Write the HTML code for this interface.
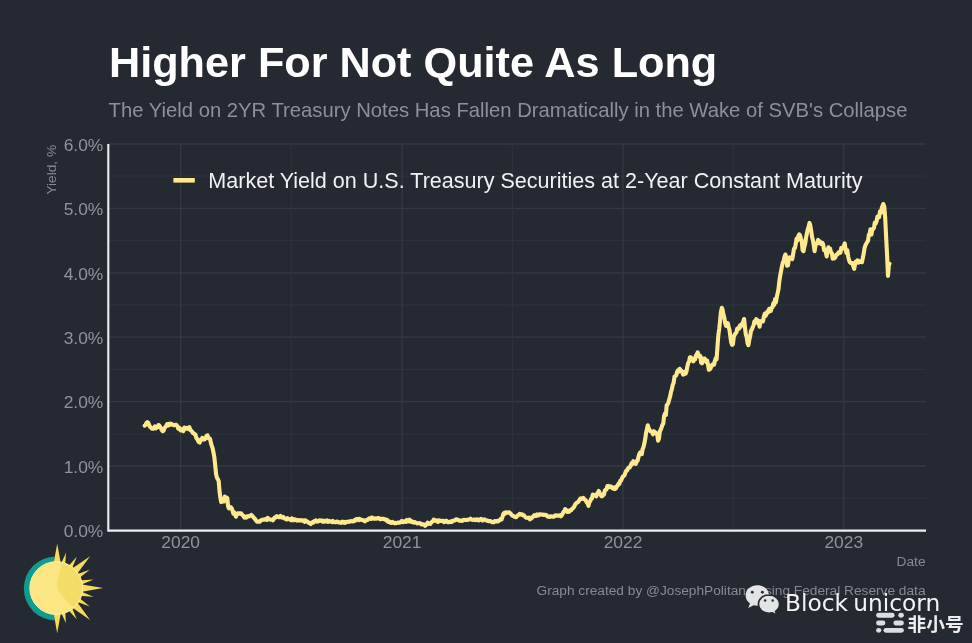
<!DOCTYPE html>
<html lang="en"><head><meta charset="utf-8"><title>Higher For Not Quite As Long</title>
<style>
html,body{margin:0;padding:0;background:#252A32;}
body{width:972px;height:643px;overflow:hidden;position:relative;font-family:"Liberation Sans",Arial,sans-serif;}
svg{position:absolute;left:0;top:0;display:block}
text{font-family:"Liberation Sans",Arial,sans-serif}
.tick{font-size:17.4px;fill:#90939B}
.small{font-size:13.7px;fill:#878A92}
</style></head><body>
<svg width="972" height="643" viewBox="0 0 972 643">
<rect width="972" height="643" fill="#252A32"/>

<g fill="none" stroke-width="1.3">
<line x1="108.3" x2="926.0" y1="530.4" y2="530.4" stroke="#343942"/>
<line x1="108.3" x2="926.0" y1="498.2" y2="498.2" stroke="#2D323A"/>
<line x1="108.3" x2="926.0" y1="466.0" y2="466.0" stroke="#343942"/>
<line x1="108.3" x2="926.0" y1="433.8" y2="433.8" stroke="#2D323A"/>
<line x1="108.3" x2="926.0" y1="401.6" y2="401.6" stroke="#343942"/>
<line x1="108.3" x2="926.0" y1="369.4" y2="369.4" stroke="#2D323A"/>
<line x1="108.3" x2="926.0" y1="337.2" y2="337.2" stroke="#343942"/>
<line x1="108.3" x2="926.0" y1="305.0" y2="305.0" stroke="#2D323A"/>
<line x1="108.3" x2="926.0" y1="272.8" y2="272.8" stroke="#343942"/>
<line x1="108.3" x2="926.0" y1="240.6" y2="240.6" stroke="#2D323A"/>
<line x1="108.3" x2="926.0" y1="208.4" y2="208.4" stroke="#343942"/>
<line x1="108.3" x2="926.0" y1="176.2" y2="176.2" stroke="#2D323A"/>
<line x1="108.3" x2="926.0" y1="144.0" y2="144.0" stroke="#343942"/>
<line x1="180.7" x2="180.7" y1="144.0" y2="530.4" stroke="#343942"/>
<line x1="402.1" x2="402.1" y1="144.0" y2="530.4" stroke="#343942"/>
<line x1="623.0" x2="623.0" y1="144.0" y2="530.4" stroke="#343942"/>
<line x1="843.8" x2="843.8" y1="144.0" y2="530.4" stroke="#343942"/>
<line x1="291.4" x2="291.4" y1="144.0" y2="530.4" stroke="#2D323A"/>
<line x1="512.5" x2="512.5" y1="144.0" y2="530.4" stroke="#2D323A"/>
<line x1="733.4" x2="733.4" y1="144.0" y2="530.4" stroke="#2D323A"/>
</g>
<path d="M144.7,425.7 L145.6,425.0 L146.4,423.0 L147.3,422.1 L148.1,422.7 L149.0,424.5 L149.9,426.8 L150.7,427.1 L151.6,428.5 L152.4,428.7 L153.3,428.8 L154.2,428.3 L155.0,426.4 L155.9,428.3 L156.7,427.6 L157.6,427.2 L158.5,425.0 L159.3,425.5 L160.2,426.9 L161.0,428.4 L161.9,430.3 L162.8,431.1 L163.6,430.7 L164.5,428.0 L165.3,427.1 L166.2,425.9 L167.1,424.2 L167.9,425.6 L168.8,424.0 L169.6,424.9 L170.5,423.6 L171.4,423.9 L172.2,424.6 L173.1,424.7 L173.9,425.3 L174.8,424.9 L175.7,424.7 L176.5,425.1 L177.4,426.2 L178.2,428.6 L179.1,427.6 L180.0,429.4 L180.8,430.4 L181.7,429.5 L182.5,430.4 L183.4,431.1 L184.3,427.6 L185.1,428.6 L186.0,428.5 L186.8,427.8 L187.7,428.9 L188.6,428.3 L189.4,427.2 L190.3,430.0 L191.1,430.5 L192.0,431.5 L192.9,433.1 L193.7,433.3 L194.6,434.2 L195.4,434.6 L196.3,438.1 L197.2,438.7 L198.0,440.8 L198.9,442.1 L199.7,442.5 L200.6,439.9 L201.5,439.4 L202.3,437.8 L203.2,439.4 L204.0,439.6 L204.9,439.3 L205.8,437.7 L206.6,435.7 L207.5,435.4 L208.3,438.2 L209.2,438.1 L210.1,439.0 L210.9,442.8 L211.8,445.8 L212.6,448.2 L213.5,452.7 L214.4,457.7 L215.2,465.4 L216.1,474.2 L216.9,477.5 L217.8,479.2 L218.7,481.1 L219.5,491.1 L220.4,497.9 L221.2,502.1 L222.1,501.1 L223.0,501.2 L223.8,501.4 L224.7,496.5 L225.5,497.2 L226.4,497.4 L227.3,498.2 L228.1,506.3 L229.0,508.3 L229.8,507.9 L230.7,507.1 L231.6,508.3 L232.4,510.1 L233.3,513.6 L234.1,512.3 L235.0,513.8 L235.9,516.7 L236.7,514.5 L237.6,513.3 L238.4,513.3 L239.3,513.7 L240.2,513.3 L241.0,513.3 L241.9,514.5 L242.7,515.3 L243.6,516.1 L244.5,517.6 L245.3,516.9 L246.2,517.7 L247.0,516.3 L247.9,516.3 L248.8,516.5 L249.6,516.1 L250.5,515.5 L251.3,514.9 L252.2,515.8 L253.1,516.8 L253.9,517.9 L254.8,518.6 L255.6,519.9 L256.5,521.1 L257.4,521.8 L258.2,521.8 L259.1,521.3 L259.9,521.6 L260.8,520.5 L261.7,519.9 L262.5,519.7 L263.4,519.6 L264.2,519.8 L265.1,519.1 L266.0,519.3 L266.8,519.9 L267.7,517.9 L268.5,518.6 L269.4,519.2 L270.3,519.5 L271.1,519.7 L272.0,519.6 L272.8,520.3 L273.7,519.0 L274.6,517.5 L275.4,517.7 L276.3,516.3 L277.1,516.3 L278.0,516.9 L278.9,517.2 L279.7,517.3 L280.6,516.0 L281.4,516.9 L282.3,517.6 L283.2,516.9 L284.0,517.8 L284.9,518.6 L285.7,518.9 L286.6,519.4 L287.5,518.2 L288.3,519.0 L289.2,519.1 L290.0,519.7 L290.9,520.1 L291.8,518.4 L292.6,520.2 L293.5,519.2 L294.3,520.2 L295.2,519.3 L296.1,520.1 L296.9,520.6 L297.8,520.0 L298.6,520.2 L299.5,520.5 L300.4,520.2 L301.2,520.1 L302.1,520.8 L302.9,520.7 L303.8,520.3 L304.7,521.9 L305.5,520.4 L306.4,521.5 L307.2,521.4 L308.1,522.1 L309.0,523.0 L309.8,523.3 L310.7,524.0 L311.5,522.7 L312.4,522.1 L313.3,522.6 L314.1,521.3 L315.0,520.8 L315.8,520.4 L316.7,521.6 L317.6,521.2 L318.4,521.4 L319.3,520.3 L320.1,520.8 L321.0,520.3 L321.9,521.2 L322.7,521.6 L323.6,520.6 L324.4,521.7 L325.3,521.5 L326.2,521.1 L327.0,520.3 L327.9,521.9 L328.7,521.2 L329.6,521.0 L330.5,521.5 L331.3,521.6 L332.2,522.1 L333.0,521.0 L333.9,522.0 L334.8,522.2 L335.6,522.3 L336.5,521.7 L337.3,521.5 L338.2,522.4 L339.1,522.2 L339.9,522.3 L340.8,523.0 L341.6,522.4 L342.5,521.6 L343.4,522.6 L344.2,521.9 L345.1,522.8 L345.9,522.4 L346.8,521.7 L347.7,521.8 L348.5,521.9 L349.4,521.4 L350.2,521.7 L351.1,521.0 L352.0,521.3 L352.8,521.4 L353.7,521.3 L354.5,520.1 L355.4,520.6 L356.3,519.2 L357.1,519.5 L358.0,518.9 L358.8,520.2 L359.7,519.0 L360.6,519.6 L361.4,519.8 L362.3,520.1 L363.1,520.1 L364.0,520.7 L364.9,521.3 L365.7,520.2 L366.6,520.1 L367.4,520.0 L368.3,519.1 L369.2,518.4 L370.0,518.5 L370.9,519.0 L371.7,517.6 L372.6,517.8 L373.5,518.6 L374.3,518.6 L375.2,518.4 L376.0,518.8 L376.9,518.6 L377.8,518.1 L378.6,518.0 L379.5,518.5 L380.3,519.3 L381.2,518.8 L382.1,518.7 L382.9,518.9 L383.8,518.7 L384.6,519.4 L385.5,519.4 L386.4,520.6 L387.2,520.0 L388.1,521.7 L388.9,521.9 L389.8,521.5 L390.7,522.9 L391.5,522.7 L392.4,522.0 L393.2,522.8 L394.1,523.2 L395.0,522.7 L395.8,523.1 L396.7,523.0 L397.5,522.8 L398.4,522.5 L399.3,522.8 L400.1,522.4 L401.0,522.1 L401.8,520.9 L402.7,522.1 L403.6,522.1 L404.4,521.2 L405.3,521.0 L406.1,521.9 L407.0,520.0 L407.9,520.8 L408.7,521.4 L409.6,519.7 L410.4,520.8 L411.3,521.8 L412.2,521.4 L413.0,522.1 L413.9,522.6 L414.7,522.0 L415.6,522.6 L416.5,523.0 L417.3,523.4 L418.2,523.2 L419.0,523.3 L419.9,523.1 L420.8,523.7 L421.6,524.5 L422.5,524.5 L423.3,524.3 L424.2,524.5 L425.1,525.8 L425.9,524.9 L426.8,524.4 L427.6,522.7 L428.5,523.9 L429.4,523.6 L430.2,523.9 L431.1,522.7 L431.9,521.9 L432.8,521.5 L433.7,519.7 L434.5,520.6 L435.4,520.5 L436.2,520.3 L437.1,521.4 L438.0,521.9 L438.8,520.4 L439.7,520.5 L440.5,520.9 L441.4,521.0 L442.3,520.9 L443.1,520.7 L444.0,522.2 L444.8,521.8 L445.7,520.8 L446.6,520.7 L447.4,522.1 L448.3,521.8 L449.1,522.3 L450.0,521.9 L450.9,521.3 L451.7,521.9 L452.6,520.7 L453.4,520.8 L454.3,520.6 L455.2,520.3 L456.0,519.2 L456.9,519.3 L457.7,519.9 L458.6,520.1 L459.5,520.6 L460.3,520.7 L461.2,520.5 L462.0,520.9 L462.9,520.4 L463.8,519.9 L464.6,519.9 L465.5,520.1 L466.3,519.9 L467.2,519.9 L468.1,519.7 L468.9,519.6 L469.8,519.3 L470.6,518.7 L471.5,519.5 L472.4,519.9 L473.2,519.8 L474.1,519.6 L474.9,520.1 L475.8,519.6 L476.7,519.3 L477.5,520.2 L478.4,519.7 L479.2,520.4 L480.1,519.5 L481.0,518.8 L481.8,519.4 L482.7,520.5 L483.5,519.7 L484.4,519.4 L485.3,519.8 L486.1,520.5 L487.0,520.6 L487.8,520.6 L488.7,521.3 L489.6,521.1 L490.4,521.0 L491.3,521.5 L492.1,522.2 L493.0,522.2 L493.9,522.3 L494.7,521.1 L495.6,521.3 L496.4,521.5 L497.3,520.9 L498.2,521.3 L499.0,520.6 L499.9,520.1 L500.7,518.9 L501.6,519.4 L502.5,516.9 L503.3,514.1 L504.2,512.9 L505.0,513.8 L505.9,512.2 L506.8,512.4 L507.6,512.7 L508.5,512.5 L509.3,512.3 L510.2,513.3 L511.1,514.1 L511.9,515.2 L512.8,515.9 L513.6,516.0 L514.5,516.8 L515.4,517.1 L516.2,517.2 L517.1,516.2 L517.9,515.3 L518.8,514.8 L519.7,513.8 L520.5,514.2 L521.4,514.8 L522.2,514.4 L523.1,515.4 L524.0,515.3 L524.8,516.5 L525.7,517.5 L526.5,517.8 L527.4,517.7 L528.3,517.9 L529.1,517.6 L530.0,519.3 L530.8,518.6 L531.7,518.3 L532.6,516.8 L533.4,516.5 L534.3,515.2 L535.1,516.0 L536.0,515.9 L536.9,514.5 L537.7,515.2 L538.6,515.4 L539.4,514.3 L540.3,514.3 L541.2,514.6 L542.0,514.8 L542.9,514.5 L543.7,515.0 L544.6,514.9 L545.5,514.9 L546.3,515.1 L547.2,516.2 L548.0,516.8 L548.9,516.4 L549.8,516.9 L550.6,516.5 L551.5,516.3 L552.3,516.6 L553.2,516.5 L554.1,516.6 L554.9,515.5 L555.8,515.4 L556.6,515.8 L557.5,515.6 L558.4,515.6 L559.2,515.7 L560.1,515.1 L560.9,516.3 L561.8,515.4 L562.7,513.7 L563.5,511.9 L564.4,511.0 L565.2,509.1 L566.1,510.7 L567.0,511.8 L567.8,510.7 L568.7,511.8 L569.5,511.5 L570.4,510.0 L571.3,510.0 L572.1,508.8 L573.0,508.3 L573.8,507.2 L574.7,505.5 L575.6,503.8 L576.4,503.2 L577.3,502.3 L578.1,502.0 L579.0,500.8 L579.9,499.2 L580.7,498.3 L581.6,498.8 L582.4,498.2 L583.3,497.9 L584.2,499.3 L585.0,499.6 L585.9,500.6 L586.7,502.4 L587.6,503.4 L588.5,505.9 L589.3,502.1 L590.2,501.5 L591.0,499.0 L591.9,498.5 L592.8,494.5 L593.6,494.9 L594.5,495.4 L595.3,495.4 L596.2,496.4 L597.1,493.6 L597.9,492.9 L598.8,491.0 L599.6,493.1 L600.5,494.7 L601.4,496.2 L602.2,496.3 L603.1,494.2 L603.9,494.6 L604.8,490.6 L605.7,489.5 L606.5,489.5 L607.4,486.1 L608.2,485.9 L609.1,487.2 L610.0,486.6 L610.8,486.3 L611.7,487.5 L612.5,488.2 L613.4,488.7 L614.3,487.5 L615.1,489.0 L616.0,488.3 L616.8,486.4 L617.7,485.5 L618.6,483.6 L619.4,483.8 L620.3,480.8 L621.1,480.6 L622.0,478.2 L622.9,476.5 L623.7,476.0 L624.6,475.1 L625.4,472.6 L626.3,470.6 L627.2,470.4 L628.0,468.4 L628.9,467.5 L629.7,467.4 L630.6,465.9 L631.5,463.4 L632.3,464.3 L633.2,461.2 L634.0,461.9 L634.9,462.0 L635.8,463.8 L636.6,461.1 L637.5,460.9 L638.3,457.6 L639.2,454.3 L640.1,452.6 L640.9,452.1 L641.8,454.1 L642.6,449.1 L643.5,447.1 L644.4,443.3 L645.2,439.2 L646.1,432.6 L646.9,429.2 L647.8,425.3 L648.7,428.3 L649.5,429.7 L650.4,431.2 L651.2,431.6 L652.1,432.0 L653.0,434.3 L653.8,431.2 L654.7,432.1 L655.5,432.5 L656.4,433.3 L657.3,434.9 L658.1,440.6 L659.0,438.4 L659.8,431.4 L660.7,429.7 L661.6,427.5 L662.4,424.9 L663.3,423.6 L664.1,415.9 L665.0,413.6 L665.9,415.0 L666.7,405.2 L667.6,404.3 L668.4,402.6 L669.3,399.2 L670.2,396.1 L671.0,391.8 L671.9,389.1 L672.7,385.0 L673.6,382.9 L674.5,376.7 L675.3,376.1 L676.2,375.4 L677.0,372.2 L677.9,370.4 L678.8,371.6 L679.6,368.8 L680.5,369.9 L681.3,370.7 L682.2,372.2 L683.1,374.6 L683.9,374.3 L684.8,371.9 L685.6,373.6 L686.5,371.5 L687.4,366.2 L688.2,363.0 L689.1,361.7 L689.9,357.2 L690.8,357.3 L691.7,360.4 L692.5,358.5 L693.4,361.3 L694.2,358.9 L695.1,359.4 L696.0,355.5 L696.8,354.3 L697.7,352.4 L698.5,355.2 L699.4,356.9 L700.3,356.0 L701.1,362.5 L702.0,363.4 L702.8,358.6 L703.7,361.0 L704.6,358.5 L705.4,360.7 L706.3,362.0 L707.1,360.6 L708.0,364.7 L708.9,369.8 L709.7,369.3 L710.6,368.3 L711.4,366.1 L712.3,364.6 L713.2,364.9 L714.0,364.8 L714.9,360.8 L715.7,358.3 L716.6,359.2 L717.5,346.5 L718.3,335.6 L719.2,328.9 L720.0,321.6 L720.9,312.1 L721.8,307.8 L722.6,309.8 L723.5,314.9 L724.3,317.6 L725.2,323.1 L726.1,326.0 L726.9,325.7 L727.8,323.1 L728.6,326.7 L729.5,330.1 L730.4,336.8 L731.2,342.4 L732.1,344.9 L732.9,344.3 L733.8,336.8 L734.7,334.6 L735.5,333.5 L736.4,332.5 L737.2,328.6 L738.1,328.7 L739.0,328.7 L739.8,325.7 L740.7,326.7 L741.5,324.4 L742.4,324.7 L743.3,321.4 L744.1,319.0 L745.0,327.7 L745.8,334.3 L746.7,337.2 L747.6,343.2 L748.4,345.1 L749.3,339.8 L750.1,336.6 L751.0,330.8 L751.9,329.4 L752.7,327.3 L753.6,325.2 L754.4,321.4 L755.3,321.4 L756.2,319.2 L757.0,319.9 L757.9,323.1 L758.7,320.9 L759.6,326.7 L760.5,321.4 L761.3,321.5 L762.2,320.9 L763.0,321.3 L763.9,316.5 L764.8,313.5 L765.6,315.8 L766.5,314.0 L767.3,311.6 L768.2,312.4 L769.1,308.9 L769.9,309.4 L770.8,310.9 L771.6,307.7 L772.5,307.3 L773.4,303.1 L774.2,304.9 L775.1,299.0 L775.9,302.5 L776.8,296.9 L777.7,292.9 L778.5,289.0 L779.4,280.7 L780.2,275.5 L781.1,270.9 L782.0,266.1 L782.8,262.7 L783.7,260.9 L784.5,257.0 L785.4,254.5 L786.3,257.5 L787.1,265.7 L788.0,265.3 L788.8,259.5 L789.7,257.4 L790.6,257.7 L791.4,257.8 L792.3,259.0 L793.1,254.4 L794.0,248.7 L794.9,248.2 L795.7,244.2 L796.6,238.5 L797.4,240.6 L798.3,236.1 L799.2,234.4 L800.0,235.3 L800.9,238.6 L801.7,240.9 L802.6,250.0 L803.5,251.2 L804.3,246.9 L805.2,243.6 L806.0,237.8 L806.9,233.3 L807.8,229.1 L808.6,226.9 L809.5,222.9 L810.3,225.5 L811.2,230.8 L812.1,237.2 L812.9,240.0 L813.8,245.7 L814.6,251.3 L815.5,245.2 L816.4,243.6 L817.2,243.6 L818.1,239.9 L818.9,242.9 L819.8,241.3 L820.7,243.8 L821.5,242.9 L822.4,242.8 L823.2,244.6 L824.1,250.3 L825.0,249.3 L825.8,252.1 L826.7,256.4 L827.5,250.1 L828.4,247.3 L829.3,248.3 L830.1,248.7 L831.0,252.6 L831.8,253.0 L832.7,258.7 L833.6,256.1 L834.4,258.3 L835.3,257.4 L836.1,254.9 L837.0,254.8 L837.9,253.5 L838.7,252.3 L839.6,253.1 L840.4,252.5 L841.3,247.9 L842.2,247.6 L843.0,248.0 L843.9,246.1 L844.7,243.4 L845.6,249.7 L846.5,253.0 L847.3,250.3 L848.2,256.6 L849.0,260.1 L849.9,262.2 L850.8,263.0 L851.6,262.9 L852.5,263.1 L853.3,266.1 L854.2,268.8 L855.1,263.9 L855.9,261.5 L856.8,262.3 L857.6,260.3 L858.5,262.7 L859.4,261.2 L860.2,261.9 L861.1,261.4 L861.9,262.2 L862.8,258.0 L863.7,253.7 L864.5,248.4 L865.4,245.2 L866.2,243.7 L867.1,242.2 L868.0,240.9 L868.8,234.9 L869.7,233.6 L870.5,229.2 L871.4,234.6 L872.3,229.4 L873.1,229.1 L874.0,227.7 L874.8,222.6 L875.7,223.6 L876.6,221.2 L877.4,216.5 L878.3,217.6 L879.1,217.2 L880.0,211.3 L880.9,213.0 L881.7,208.3 L883.3,204.0 L884.3,206.8 L885.2,218.0 L886.1,236.7 L887.1,255.3 L888.0,275.9 L888.9,264.7 L889.5,263.7" fill="none" stroke="#FFE98F" stroke-width="4.1" stroke-linejoin="round" stroke-linecap="round"/>
<path d="M108.3,144.0 V530.6 H926.0" fill="none" stroke="#EDEEF0" stroke-width="2.1" stroke-linejoin="miter"/>
<rect x="173.4" y="178.0" width="21.4" height="4.6" fill="#FFE98F"/>
<text x="208.3" y="187.9" font-size="21.55" fill="#F1F1F2">Market Yield on U.S. Treasury Securities at 2-Year Constant Maturity</text>
<text x="109.0" y="77.4" font-size="43.22" font-weight="bold" fill="#FFFFFF">Higher For Not Quite As Long</text>
<text x="108.6" y="116.5" font-size="20.25" fill="#8D9098">The Yield on 2YR Treasury Notes Has Fallen Dramatically in the Wake of SVB's Collapse</text>
<text class="tick" x="103.3" y="537.1" text-anchor="end">0.0%</text>
<text class="tick" x="103.3" y="472.7" text-anchor="end">1.0%</text>
<text class="tick" x="103.3" y="408.3" text-anchor="end">2.0%</text>
<text class="tick" x="103.3" y="343.9" text-anchor="end">3.0%</text>
<text class="tick" x="103.3" y="279.5" text-anchor="end">4.0%</text>
<text class="tick" x="103.3" y="215.1" text-anchor="end">5.0%</text>
<text class="tick" x="103.3" y="150.7" text-anchor="end">6.0%</text>
<text class="tick" x="180.7" y="547.6" text-anchor="middle">2020</text>
<text class="tick" x="402.1" y="547.6" text-anchor="middle">2021</text>
<text class="tick" x="623.0" y="547.6" text-anchor="middle">2022</text>
<text class="tick" x="843.8" y="547.6" text-anchor="middle">2023</text>
<text class="small" x="925.5" y="566.4" text-anchor="end">Date</text>
<text class="small" transform="translate(56.4,194.6) rotate(-90)">Yield, %</text>
<text class="small" x="925.5" y="594.6" text-anchor="end">Graph created by @JosephPolitano using Federal Reserve data</text>
<g>
<clipPath id="lh"><rect x="0" y="540" width="54.4" height="103"/></clipPath>
<circle cx="55.800000000000004" cy="588.5" r="32.0" fill="#0E9C8F" clip-path="url(#lh)"/>
<polygon points="61.1,564.7 57.2,543.7 53.3,564.7" fill="#F6DB5C"/>
<polygon points="65.1,566.0 66.0,552.8 60.6,564.8" fill="#F6DB5C"/>
<polygon points="71.6,569.5 76.8,556.7 67.6,567.0" fill="#F6DB5C"/>
<polygon points="76.7,574.6 90.1,556.3 71.4,569.1" fill="#F6DB5C"/>
<polygon points="78.7,578.6 89.6,569.8 76.4,574.6" fill="#F6DB5C"/>
<polygon points="80.5,585.0 93.4,579.5 79.4,580.5" fill="#F6DB5C"/>
<polygon points="80.6,591.9 103.2,588.1 80.6,584.3" fill="#F6DB5C"/>
<polygon points="79.4,595.7 93.4,596.7 80.5,591.2" fill="#F6DB5C"/>
<polygon points="76.4,601.6 89.8,606.5 78.7,597.6" fill="#F6DB5C"/>
<polygon points="71.4,607.1 90.1,619.9 76.7,601.6" fill="#F6DB5C"/>
<polygon points="67.6,609.2 76.7,619.3 71.6,606.7" fill="#F6DB5C"/>
<polygon points="60.6,611.4 66.0,623.2 65.1,610.2" fill="#F6DB5C"/>
<polygon points="53.3,611.5 57.2,633.3 61.1,611.5" fill="#F6DB5C"/>
<circle cx="56.2" cy="588.1" r="26.4" fill="#FBE683" stroke="#FFF2B0" stroke-width="1"/>
<clipPath id="sc"><circle cx="56.2" cy="588.1" r="25.799999999999997"/></clipPath>
<polygon points="62.4,560.1 56.7,583.7 57.9,589.7 68.7,604.0 78.8,609.9 86.5,605.2 86.5,560.1" fill="#F3DD66" clip-path="url(#sc)"/>
</g>
<g>
<path d="M757.3,585.2 c-6.5,0 -11.7,4.6 -11.7,10.3 c0,3.2 1.7,6.0 4.4,7.9 l-1.7,4.6 l5.3,-2.8 c1.2,0.3 2.4,0.5 3.7,0.5 c6.5,0 11.7,-4.5 11.7,-10.2 c0,-5.7 -5.2,-10.3 -11.7,-10.3z" fill="#E3E4E6"/>
<path d="M769,594.9 c-5.9,0 -10.6,4.1 -10.6,9.2 c0,5.1 4.7,9.2 10.6,9.2 c1.1,0 2.2,-0.2 3.3,-0.5 l4.6,2.5 l-1.4,-4.0 c2.5,-1.7 4.1,-4.3 4.1,-7.2 c0,-5.1 -4.7,-9.2 -10.6,-9.2z" fill="#E3E4E6" stroke="#252A32" stroke-width="1.6"/>
<circle cx="752.3" cy="592.3" r="1.45" fill="#2B2F37"/>
<circle cx="762.4" cy="592.3" r="1.45" fill="#2B2F37"/>
<circle cx="765.1" cy="600.6" r="1.25" fill="#2B2F37"/>
<circle cx="772.7" cy="600.6" r="1.25" fill="#2B2F37"/>
</g>
<text x="785.0" y="610.8" font-size="23.3" fill="#F3F3F4" style="word-spacing:-2.2px;font-family:'DejaVu Sans','Liberation Sans',sans-serif">Block unicorn</text>
<rect x="876.1" y="612.8" width="18.5" height="4.9" rx="2.45" fill="#DCDDE0"/>
<rect x="898.3" y="612.8" width="5.6" height="4.9" rx="2.45" fill="#DCDDE0"/>
<rect x="876.1" y="620.5" width="9.3" height="4.9" rx="2.45" fill="#DCDDE0"/>
<rect x="893.4" y="620.5" width="10.5" height="4.9" rx="2.45" fill="#DCDDE0"/>
<rect x="876.1" y="627.9" width="5.2" height="4.9" rx="2.45" fill="#DCDDE0"/>
<rect x="883.5" y="627.9" width="20.4" height="4.9" rx="2.45" fill="#DCDDE0"/>
<text x="907.6" y="630.6" font-size="18.7" font-weight="bold" fill="#EDEDEF" style="font-family:'Liberation Sans','Noto Sans CJK SC','WenQuanYi Zen Hei',sans-serif">非小号</text>
</svg></body></html>
